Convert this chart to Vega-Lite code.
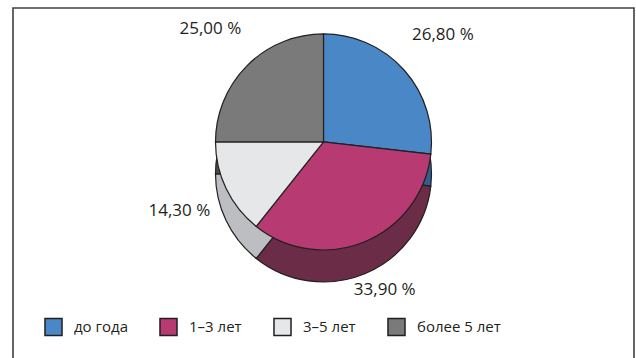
{
  "$schema": "https://vega.github.io/schema/vega-lite/v6.json",
  "width": 636,
  "height": 358,
  "autosize": {"type": "fit", "contains": "padding"},
  "padding": {"left": 12, "top": 7, "right": 1, "bottom": -13},
  "background": "white",
  "data": {
    "values": [
      {"n": 1, "category": "до года", "share": 26.8},
      {"n": 2, "category": "1–3 лет", "share": 33.9},
      {"n": 3, "category": "3–5 лет", "share": 14.3},
      {"n": 4, "category": "более 5 лет", "share": 25.0}
    ]
  },
  "transform": [
    {"calculate": "replace(format(datum.share, '.2f'), '.', ',') + ' %'", "as": "label"}
  ],
  "layer": [
    {
      "data": {"values": [{}]},
      "mark": {"type": "rect", "x": 0, "x2": "width", "y": 0, "y2": "height", "fill": null, "stroke": "#404040", "strokeWidth": 1.6},
      "encoding": {}
    },
    {
      "mark": {"type": "arc", "y": {"expr": "height * 0.37"}, "yOffset": 32, "radius": 108, "stroke": "#231f20", "strokeWidth": 1.2},
      "encoding": {
        "theta": {"field": "share", "type": "quantitative", "stack": true},
        "order": {"field": "n", "type": "quantitative"},
        "fill": {
          "field": "category", "type": "nominal", "legend": null,
          "scale": {"domain": ["до года", "1–3 лет", "3–5 лет", "более 5 лет"], "range": ["#2f5f92", "#6a2c46", "#bdbec1", "#4e4e4e"]}
        }
      }
    },
    {
      "mark": {"type": "arc", "y": {"expr": "height * 0.37"}, "radius": 108, "stroke": "#231f20", "strokeWidth": 1.2},
      "encoding": {
        "theta": {"field": "share", "type": "quantitative", "stack": true},
        "order": {"field": "n", "type": "quantitative"},
        "fill": {
          "field": "category", "type": "nominal", "title": null,
          "scale": {"domain": ["до года", "1–3 лет", "3–5 лет", "более 5 лет"], "range": ["#4a87c6", "#b73a73", "#e6e7e8", "#7a7a7a"]}
        }
      }
    },
    {
      "mark": {"type": "text", "y": {"expr": "height * 0.37"}, "radius": 160, "font": "Open Sans", "fontSize": 17, "fill": "#231f20"},
      "encoding": {
        "theta": {"field": "share", "type": "quantitative", "stack": true},
        "order": {"field": "n", "type": "quantitative"},
        "text": {"field": "label", "type": "nominal"}
      }
    }
  ],
  "resolve": {"scale": {"fill": "independent"}, "legend": {"fill": "independent"}},
  "config": {
    "legend": {
      "orient": "bottom-left",
      "direction": "horizontal",
      "offset": 31,
      "padding": 0,
      "symbolType": "square",
      "symbolSize": 290,
      "symbolStrokeColor": "#231f20",
      "symbolStrokeWidth": 1.5,
      "symbolOpacity": 1,
      "labelFont": "Open Sans",
      "labelFontSize": 15,
      "labelColor": "#231f20",
      "labelOffset": 11,
      "columnPadding": 28
    }
  }
}
